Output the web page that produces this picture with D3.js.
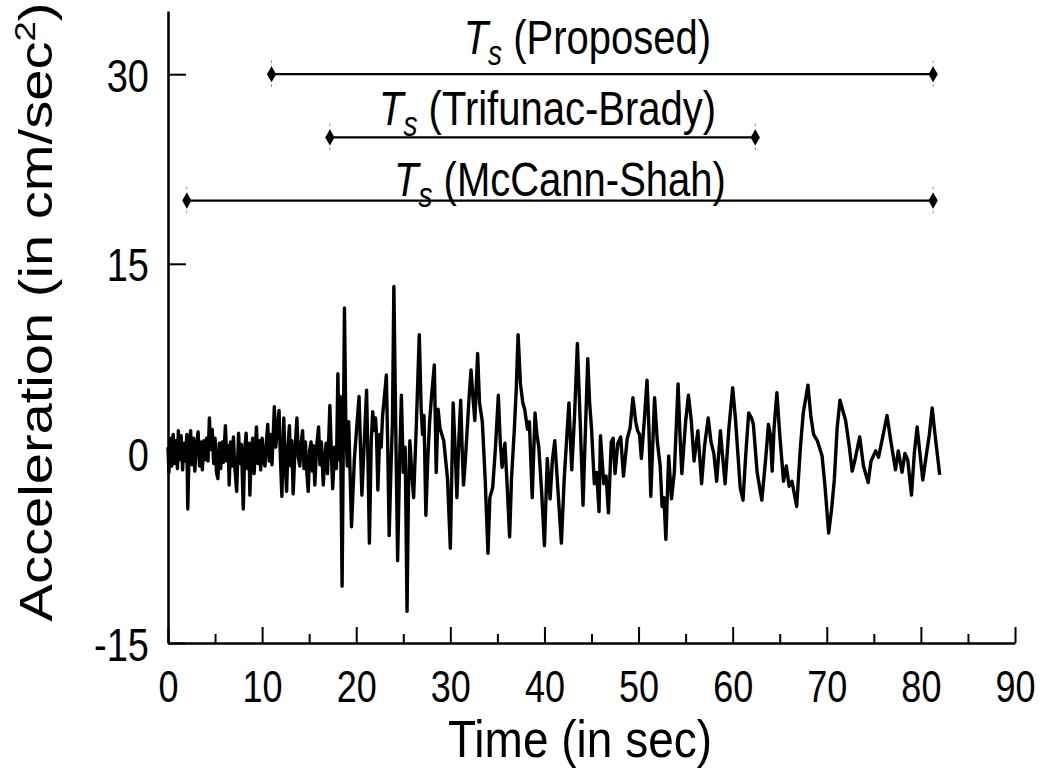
<!DOCTYPE html>
<html>
<head>
<meta charset="utf-8">
<script src="https://cdn.jsdelivr.net/npm/d3@7"></script>
<style>
  html, body { margin: 0; padding: 0; background: #fff; }
  #chart svg { display: block; }
</style>
</head>
<body>
<div id="chart"></div>
<script>
// Accelerogram: [time in sec, acceleration in cm/sec^2]
const accelRecord = [
  [0.0, 0.5], [0.1, -1.5], [0.25, 1.2], [0.4, -1.0], [0.55, 1.5], [0.7, -0.8], [0.85, 1.0], [1.0, -1.2],
  [1.1, 1.8], [1.25, -0.5], [1.4, 1.4], [1.55, -1.3], [1.7, 0.8], [1.85, -0.6], [2.0, 1.5], [2.1, -4.4],
  [2.25, 0.5], [2.4, 1.8], [2.55, -0.9], [2.7, 1.2], [2.85, -1.4], [3.0, 0.6], [3.2, 1.7], [3.35, -1.0],
  [3.5, 0.9], [3.65, -1.3], [3.8, 1.0], [3.95, -0.5], [4.1, 1.2], [4.25, -0.6], [4.4, 2.8], [4.55, 0.3],
  [4.7, 1.9], [4.85, -0.8], [5.0, 1.2], [5.15, -1.5], [5.3, -2.0], [5.45, 0.8], [5.6, -1.2], [5.75, 0.9],
  [5.9, -0.7], [6.1, 2.2], [6.25, -0.6], [6.4, 0.6], [6.5, -2.5], [6.65, 0.9], [6.8, -1.0], [6.95, 1.3],
  [7.1, -1.1], [7.3, -3.0], [7.5, 1.6], [7.65, -0.8], [7.8, 0.7], [8.0, -4.4], [8.15, 0.2], [8.3, 1.6],
  [8.45, -1.2], [8.6, 0.8], [8.7, -3.3], [8.85, 0.2], [9.0, 1.2], [9.15, -1.6], [9.4, 2.1], [9.55, -0.8],
  [9.7, 1.0], [9.85, -1.3], [10.0, 1.2], [10.15, -0.4], [10.3, -1.0], [10.45, 0.9], [10.6, 2.3], [10.75, -0.6],
  [10.9, 1.5], [11.05, -0.9], [11.3, 3.7], [11.45, 0.5], [11.6, 1.8], [11.8, 3.4], [11.95, -0.5], [12.1, -3.4],
  [12.3, 2.8], [12.45, -0.7], [12.6, -3.0], [12.75, 0.5], [12.9, 2.2], [13.05, -1.0], [13.15, 1.0], [13.3, -3.2],
  [13.5, 0.4], [13.7, 2.8], [13.85, -0.3], [14.0, -1.0], [14.15, 0.8], [14.3, 1.8], [14.45, -1.2], [14.6, 0.9],
  [14.75, -1.5], [14.9, -3.0], [15.05, 0.2], [15.2, 0.9], [15.35, -1.4], [15.45, 0.6], [15.6, -2.5], [15.8, 0.6],
  [16.0, 2.1], [16.15, -0.9], [16.3, 0.9], [16.5, -2.5], [16.65, -0.4], [16.8, 0.8], [16.95, -1.6], [17.2, 3.8],
  [17.35, 0.2], [17.5, -2.8], [17.7, 0.5], [17.9, -1.2], [18.05, 6.3], [18.2, -0.5], [18.3, 4.5], [18.5, -10.5],
  [18.75, 11.5], [18.9, 2.0], [19.05, -1.0], [19.2, 2.5], [19.5, -5.8], [19.8, -0.5], [20.0, 1.5], [20.3, 4.5],
  [20.6, -3.3], [20.85, 0.8], [21.1, 5.0], [21.25, -0.5], [21.4, -7.1], [21.6, 1.0], [21.75, 3.3], [21.9, 1.8],
  [22.05, 2.8], [22.15, 1.6], [22.3, -2.9], [22.5, 1.5], [22.65, 0.5], [22.8, 3.0], [23.0, 4.5], [23.2, 6.2],
  [23.35, 0.5], [23.5, -6.5], [23.7, -1.0], [23.85, 2.5], [24.0, 13.2], [24.2, 2.0], [24.4, -8.5], [24.6, -1.0],
  [24.8, 4.6], [25.0, -1.5], [25.2, 0.5], [25.4, -12.5], [25.55, -3.0], [25.7, 1.0], [25.9, -1.5], [26.1, -3.5],
  [26.4, 2.5], [26.7, 9.4], [26.9, 3.5], [27.05, 1.5], [27.2, 3.0], [27.4, -4.9], [27.6, -0.5], [27.8, 2.5],
  [28.0, 4.5], [28.3, 7.0], [28.5, -1.5], [28.7, 3.5], [28.9, 2.0], [29.1, 1.5], [29.3, 1.0], [29.5, -0.5],
  [29.7, -2.0], [30.0, -7.5], [30.3, 4.0], [30.5, 0.5], [30.7, -3.5], [30.9, 1.0], [31.1, 4.2], [31.25, 0.5],
  [31.4, -2.5], [31.6, -0.5], [31.8, 2.0], [32.0, 4.5], [32.2, 6.6], [32.4, 4.5], [32.6, 2.6], [32.9, 7.9],
  [33.1, 4.0], [33.4, 2.5], [33.7, -2.0], [34.0, -7.9], [34.2, -3.5], [34.5, -2.7], [34.8, 0.5], [35.1, 4.6],
  [35.3, 1.0], [35.5, -1.1], [35.8, 0.8], [36.0, -2.0], [36.3, -6.6], [36.5, -2.0], [36.8, 1.9], [37.0, 5.0],
  [37.2, 9.4], [37.45, 5.5], [37.7, 4.0], [37.9, 3.5], [38.2, 1.9], [38.4, 2.5], [38.7, -3.5], [39.0, 3.2],
  [39.2, 1.5], [39.4, 0.5], [39.7, -3.0], [40.0, -7.3], [40.3, -0.4], [40.6, -3.6], [40.85, -0.5], [41.1, 1.0],
  [41.4, -2.5], [41.8, -7.1], [42.1, -2.0], [42.4, 1.6], [42.6, 4.0], [42.9, -1.3], [43.2, 3.0], [43.5, 8.7],
  [43.8, 2.5], [44.1, -4.1], [44.6, 7.5], [44.8, 4.0], [45.0, 2.0], [45.3, -2.4], [45.55, -1.5], [45.8, -4.6],
  [45.95, 1.4], [46.3, -2.4], [46.55, -1.8], [46.8, -4.7], [47.1, 0.9], [47.3, 1.2], [47.5, -1.6], [47.8, 0.8],
  [48.1, 1.3], [48.4, -1.8], [48.8, 1.2], [49.1, 2.0], [49.4, 4.4], [49.7, 2.5], [49.9, 1.8], [50.1, 1.5],
  [50.3, -0.4], [50.6, 2.5], [50.9, 5.8], [51.1, 2.0], [51.3, -3.4], [51.7, 4.4], [52.0, 0.9], [52.3, -1.0],
  [52.5, -4.2], [52.7, -3.5], [52.9, -6.8], [53.2, -0.2], [53.5, -3.6], [53.8, -1.5], [54.2, 5.5], [54.4, 1.5],
  [54.6, -1.6], [55.0, 2.5], [55.3, 4.6], [55.6, 2.6], [55.9, -0.6], [56.3, 1.8], [56.7, -2.4], [57.0, 0.5],
  [57.4, 2.8], [57.7, 0.9], [58.0, 0.0], [58.3, -2.2], [58.7, 1.8], [58.9, 0.0], [59.2, -2.4], [59.6, 2.0],
  [60.0, 5.2], [60.3, 2.7], [60.8, -2.7], [61.1, -3.7], [61.4, 0.0], [61.7, 3.2], [62.0, 2.8], [62.2, 2.3],
  [62.6, -1.5], [63.1, -3.7], [63.5, -0.5], [63.8, 2.3], [64.0, 1.5], [64.2, -1.4], [64.4, 2.0], [64.7, 4.8],
  [65.0, 1.5], [65.4, -2.2], [65.7, -1.0], [66.0, -2.6], [66.3, -2.2], [66.8, -4.2], [67.2, 0.5], [67.5, 3.2],
  [68.0, 5.4], [68.3, 3.0], [68.6, 1.5], [69.0, 1.0], [69.5, -0.2], [69.8, -2.5], [70.2, -6.3], [70.5, -4.5],
  [70.8, -2.1], [71.1, 2.0], [71.4, 4.2], [72.0, 2.6], [72.4, 0.5], [72.7, -1.4], [73.0, -0.5], [73.5, 1.3],
  [73.9, -1.0], [74.4, -2.3], [74.7, -0.6], [75.2, 0.2], [75.5, -0.3], [76.0, 1.5], [76.4, 3.0], [76.8, 1.0],
  [77.3, -1.3], [77.6, 0.2], [78.0, -1.5], [78.3, 0.0], [78.6, -0.5], [79.0, -3.3], [79.3, 0.0], [79.6, 2.1],
  [80.2, -2.1], [80.6, 0.0], [80.9, 1.5], [81.2, 3.6], [81.5, 1.5], [82.0, -1.7]
];

// Strong-motion duration estimates (sec)
const durationNames = ["Proposed", "Trifunac-Brady", "McCann-Shah"];
const durationStart = [11.0, 17.2, 2.0];
const durationEnd = [81.3, 62.4, 81.3];
const durationLevel = [30, 25, 20];

const xMajorTicks = [0, 10, 20, 30, 40, 50, 60, 70, 80, 90];
const xMinorTicks = [5, 15, 25, 35, 45, 55, 65, 75, 85];
const yTicks = [-15, 0, 15, 30];

const width = 1043;
const height = 770;
const stretch = 1.22; // text in the scan is taller than wide
const fontFamily = "'Liberation Sans', Arial, Helvetica, sans-serif";

const x = d3.scaleLinear().domain([0, 90]).range([168, 1015]);
const y = d3.scaleLinear().domain([-15, 35]).range([643, 11]);

const svg = d3.select("#chart").append("svg")
  .attr("width", width)
  .attr("height", height)
  .attr("font-family", fontFamily);

// x axis, ticks pointing inward
const gx = svg.append("g")
  .attr("transform", `translate(0,${y(-15)})`)
  .call(d3.axisBottom(x).tickValues(xMajorTicks).tickSizeInner(-16).tickSizeOuter(0).tickFormat(d => String(d)))
  .attr("font-family", fontFamily)
  .attr("font-size", 36);
gx.select(".domain").attr("stroke-width", 2.6);
gx.selectAll(".tick line").attr("stroke-width", 2);
gx.selectAll(".tick text")
  .attr("y", null).attr("dy", null)
  .attr("fill", "#000")
  .attr("transform", `translate(0,59) scale(1,${stretch})`);

svg.append("g")
  .attr("transform", `translate(0,${y(-15)})`)
  .call(d3.axisBottom(x).tickValues(xMinorTicks).tickSizeInner(-9).tickSizeOuter(0).tickFormat(""))
  .call(g => g.select(".domain").remove())
  .selectAll(".tick line").attr("stroke-width", 2);

// y axis
const gy = svg.append("g")
  .attr("transform", `translate(${x(0)},0)`)
  .call(d3.axisLeft(y).tickValues(yTicks).tickSizeInner(-18).tickSizeOuter(0).tickFormat(d => String(d)))
  .attr("font-family", fontFamily)
  .attr("font-size", 38);
gy.select(".domain").attr("stroke-width", 2.6);
gy.selectAll(".tick line").attr("stroke-width", 2);
gy.selectAll(".tick text")
  .attr("x", null).attr("dy", null)
  .attr("fill", "#000")
  .attr("text-anchor", "end")
  .attr("transform", `translate(-19,17) scale(1,${stretch})`);

// acceleration trace
const line = d3.line()
  .x(d => x(d[0]))
  .y(d => y(d[1]));

svg.append("path")
  .datum(accelRecord)
  .attr("fill", "none")
  .attr("stroke", "#000")
  .attr("stroke-width", 3.4)
  .attr("stroke-linejoin", "round")
  .attr("d", line);

// duration bars
const durations = durationNames.map((name, i) => ({
  name, start: durationStart[i], end: durationEnd[i], level: durationLevel[i]
}));
const labelLift = [20, 12, 5];
const labelShift = [-15, 5, 0];

const bars = svg.append("g")
  .selectAll("g")
  .data(durations)
  .join("g");

bars.append("line")
  .attr("x1", d => x(d.start))
  .attr("x2", d => x(d.end))
  .attr("y1", d => y(d.level))
  .attr("y2", d => y(d.level))
  .attr("stroke", "#000")
  .attr("stroke-width", 2.2);

bars.selectAll("line.end")
  .data(d => [d.start, d.end].map(t => ({ t, level: d.level })))
  .join("line")
  .attr("class", "end")
  .attr("x1", d => x(d.t))
  .attr("x2", d => x(d.t))
  .attr("y1", d => y(d.level) - 14)
  .attr("y2", d => y(d.level) + 14)
  .attr("stroke", "#999")
  .attr("stroke-width", 1)
  .attr("stroke-dasharray", "3,3");

bars.selectAll("path")
  .data(d => [d.start, d.end].map(t => ({ t, level: d.level })))
  .join("path")
  .attr("transform", d => `translate(${x(d.t)},${y(d.level)})`)
  .attr("d", d3.symbol(d3.symbolDiamond, 75))
  .attr("fill", "#000");

bars.append("text")
  .attr("text-anchor", "middle")
  .attr("font-size", 40)
  .attr("fill", "#000")
  .attr("transform", (d, i) => `translate(${x((d.start + d.end) / 2) + labelShift[i]},${y(d.level) - labelLift[i]}) scale(1,${stretch})`)
  .call(t => t.append("tspan").attr("font-style", "italic").text("T"))
  .call(t => t.append("tspan").attr("font-style", "italic").attr("font-size", 28).attr("dy", 9).text("s"))
  .call(t => t.append("tspan").attr("dy", -9).text(d => ` (${d.name})`));

// axis titles
svg.append("text")
  .attr("text-anchor", "middle")
  .attr("font-size", 46)
  .attr("fill", "#000")
  .attr("transform", `translate(580,757) scale(1,1.12)`)
  .text("Time (in sec)");

svg.append("text")
  .attr("text-anchor", "middle")
  .attr("font-size", 46)
  .attr("fill", "#000")
  .attr("transform", `translate(52,312) rotate(-90) scale(${stretch},1)`)
  .call(t => t.append("tspan").text("Acceleration (in cm/sec"))
  .call(t => t.append("tspan").attr("font-size", 30).attr("dy", -17).text("2"))
  .call(t => t.append("tspan").attr("dy", 17).text(")"));
</script>
</body>
</html>
